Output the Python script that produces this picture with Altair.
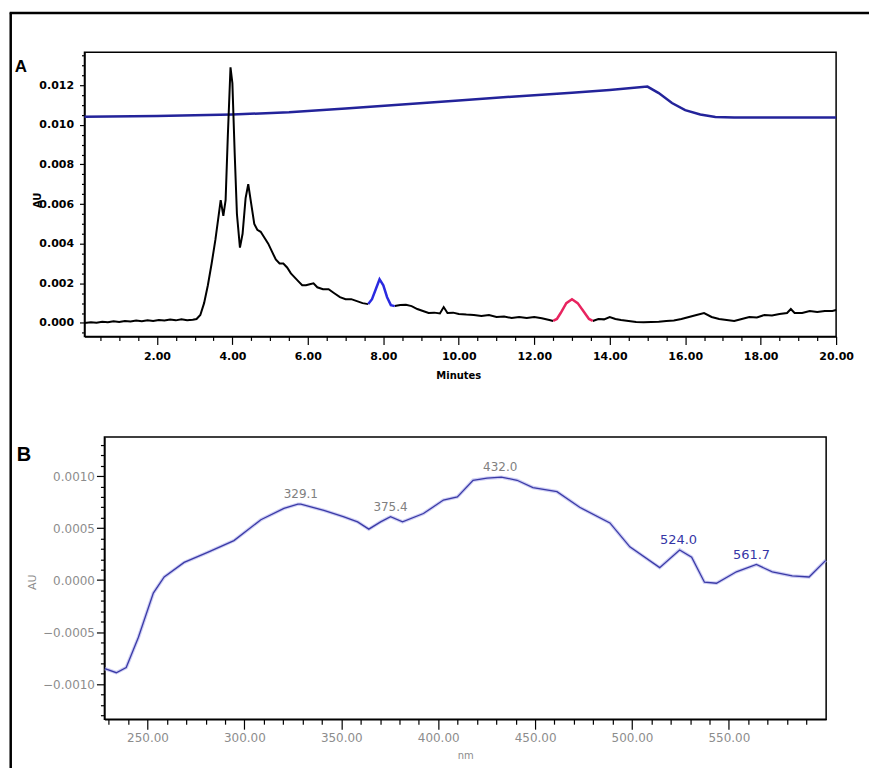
import altair as alt
import pandas as pd

# ---------------- Panel A: chromatogram (AU vs Minutes) ----------------
grad_t = [0.08, 2.0, 4.0, 5.5, 7.0, 8.5, 10.0, 11.5, 13.0, 14.0, 15.0, 15.3, 15.65, 16.0, 16.4, 16.8, 17.3, 20.0]
grad_v = [0.01041, 0.01044, 0.01052, 0.01063, 0.01082, 0.01103, 0.01123, 0.01143, 0.01162, 0.01176,
          0.01193, 0.01160, 0.01110, 0.01074, 0.01052, 0.01040, 0.01037, 0.01037]

trace1_t = [0.08, 0.25, 0.4, 0.55, 0.7, 0.85, 1.0, 1.15, 1.3, 1.45, 1.6, 1.75, 1.9, 2.05, 2.2, 2.35, 2.5,
            2.65, 2.8, 2.95, 3.05, 3.15, 3.25, 3.35, 3.45, 3.55, 3.62, 3.69, 3.76, 3.82, 3.88, 3.95, 4.0,
            4.06, 4.12, 4.2, 4.27, 4.35, 4.42, 4.5, 4.58, 4.66, 4.75, 4.85, 4.95, 5.05, 5.15, 5.25, 5.35,
            5.45, 5.55, 5.65, 5.75, 5.85, 5.95, 6.05, 6.15, 6.25, 6.4, 6.55, 6.7, 6.85, 7.0, 7.15, 7.3,
            7.45, 7.6]
trace1_v = [0.0, 0.00004, 0.00001, 0.00006, 0.00003, 0.00008, 0.00005, 0.0001, 0.00007, 0.00012,
            0.00009, 0.00014, 0.0001, 0.00015, 0.00012, 0.00017, 0.00013, 0.00019, 0.00014, 0.00016,
            0.0002, 0.0004, 0.001, 0.0019, 0.003, 0.0042, 0.0052, 0.0062, 0.0054, 0.0062,
            0.0095, 0.0129, 0.0121, 0.0086, 0.0055, 0.0038, 0.0045, 0.0063, 0.007, 0.006,
            0.005, 0.0047, 0.0046, 0.0043, 0.004, 0.0036, 0.0032, 0.003, 0.003, 0.0028,
            0.0025, 0.0023, 0.0021, 0.0019, 0.0019, 0.00195, 0.002, 0.0018, 0.0017, 0.0017,
            0.0015, 0.0013, 0.0012, 0.0012, 0.0011, 0.001, 0.00095]

peak1_t = [7.6, 7.7, 7.8, 7.9, 8.0, 8.1, 8.2, 8.3]
peak1_v = [0.00095, 0.0012, 0.0017, 0.0022, 0.0019, 0.0013, 0.0009, 0.00085]

trace2_t = [8.3, 8.45, 8.6, 8.75, 8.9, 9.05, 9.2, 9.35, 9.5, 9.6, 9.7, 9.85, 10.0, 10.2, 10.4, 10.6,
            10.8, 11.0, 11.2, 11.4, 11.6, 11.8, 12.0, 12.2, 12.4, 12.5]
trace2_v = [0.00085, 0.0009, 0.00092, 0.00085, 0.0007, 0.0006, 0.0005, 0.00052, 0.00048, 0.0008,
            0.0005, 0.00052, 0.00045, 0.00042, 0.0004, 0.00035, 0.0004, 0.0003, 0.00032, 0.00025,
            0.0003, 0.00025, 0.0003, 0.00024, 0.00015, 0.0001]

peak2_t = [12.5, 12.6, 12.7, 12.85, 13.0, 13.15, 13.3, 13.45, 13.55]
peak2_v = [0.0001, 0.0002, 0.0005, 0.001, 0.0012, 0.001, 0.0006, 0.0002, 0.0001]

trace3_t = [13.55, 13.7, 13.85, 14.0, 14.15, 14.3, 14.5, 14.7, 14.9, 15.1, 15.3, 15.5, 15.7, 15.9,
            16.1, 16.3, 16.5, 16.7, 16.9, 17.1, 17.3, 17.5, 17.7, 17.9, 18.1, 18.3, 18.5, 18.7, 18.8,
            18.9, 19.1, 19.3, 19.5, 19.7, 19.9, 20.0]
trace3_v = [0.0001, 0.0002, 0.00018, 0.0003, 0.0002, 0.00015, 0.0001, 0.00005, 0.00003, 0.00005,
            0.00006, 0.0001, 0.00012, 0.0002, 0.0003, 0.0004, 0.0005, 0.0003, 0.0002, 0.00015,
            0.0001, 0.0002, 0.0003, 0.00028, 0.0004, 0.00038, 0.00045, 0.0005, 0.0007, 0.0005,
            0.0005, 0.0006, 0.00055, 0.0006, 0.0006, 0.00065]

a_x_ticks = [2, 4, 6, 8, 10, 12, 14, 16, 18, 20]
a_y_ticks = [0.0, 0.002, 0.004, 0.006, 0.008, 0.010, 0.012]

# ---------------- Panel B: UV spectrum (AU vs nm) ----------------
spec_nm = [228, 233.9, 239, 245.3, 253, 258.6, 268.9, 281.3, 294.6, 308.5, 320.4, 327.6, 329.1, 341,
           351, 358.4, 364.2, 370.3, 375.4, 381.6, 392.4, 402.7, 409.9, 418, 425.2, 432.6, 440.7,
           448.9, 461.3, 473, 488.6, 498.9, 514.3, 524.6, 530.8, 537.4, 543.6, 553.9, 564.2, 572.4,
           582.7, 591.4, 600]
spec_v = [-0.00085, -0.00089, -0.00084, -0.00055, -0.000125, 0.00003, 0.00017, 0.00027, 0.00038,
          0.00058, 0.00069, 0.00073, 0.00073, 0.00067, 0.00061, 0.00056, 0.00049, 0.00056, 0.00061,
          0.00056, 0.00064, 0.00077, 0.0008, 0.00096, 0.00098, 0.00099, 0.00096, 0.00089, 0.00085,
          0.0007, 0.00055, 0.00032, 0.00012, 0.00029, 0.00022, -0.00002, -0.00003, 0.00008,
          0.00015, 0.00008, 0.00004, 0.00003, 0.00019]

gray_peak_nm = [329.1, 375.4, 432.0]
gray_peak_v = [0.00073, 0.00061, 0.00099]
gray_peak_lbl = ["329.1", "375.4", "432.0"]
blue_peak_nm = [524.0, 561.7]
blue_peak_v = [0.00029, 0.00015]
blue_peak_lbl = ["524.0", "561.7"]

b_x_ticks = [250, 300, 350, 400, 450, 500, 550]
b_y_ticks = [-0.001, -0.0005, 0.0, 0.0005, 0.001]

# ---------------- layout constants ----------------
W_A, H_A = 734, 285
W_B, H_B = 724, 283
A_DOM_X = [0.08, 20]
A_DOM_Y = [-0.00068, 0.01366]
B_DOM_X = [227.76, 600.2]
B_DOM_Y = [-0.001337, 0.001375]

a_x_minor = [round(0.5 * i, 2) for i in range(1, 40) if i % 4 != 0]
a_y_minor = [round(0.0005 * i, 5) for i in range(-1, 28) if i % 4 != 0]
b_x_minor = [v for v in range(230, 601, 10) if v % 50 != 0]
b_y_minor = [round(0.0001 * i, 5) for i in range(-13, 14) if i % 5 != 0]

one = pd.DataFrame({"k": [0]})

# ================= Panel A =================
xA = alt.Scale(domain=A_DOM_X, range=[-20, W_A], nice=False, zero=False)
yA = alt.Scale(domain=A_DOM_Y, nice=False, zero=False)

axAx = alt.Axis(values=a_x_ticks, format=".2f", grid=False, tickSize=8, tickColor="black", tickWidth=1.2,
                domainColor="black", domainWidth=1.5, labelFont="DejaVu Sans", labelFontSize=11,
                labelFontWeight="bold", labelColor="black", labelPadding=6, labelFlush=False,
                labelOverlap=False, title="Minutes", titleFont="DejaVu Sans", titleFontSize=10,
                titleFontWeight="bold", titleColor="black", titleX=355, titleY=39,
                titleBaseline="middle", titleAlign="center")
axAy = alt.Axis(values=a_y_ticks, format=".3f", grid=False, offset=20, tickSize=5, tickColor="black",
                tickWidth=1.2, domainColor="black", domainWidth=1.5, labelFont="DejaVu Sans",
                labelFontSize=11, labelFontWeight="bold", labelColor="black", labelPadding=6,
                labelFlush=False, labelOverlap=False, title="AU", titleFont="DejaVu Sans",
                titleFontSize=10, titleFontWeight="bold", titleColor="black", titleX=-47, titleY=148,
                titleBaseline="middle", titleAlign="center", titleAngle=270)
minAx = alt.Axis(orient="bottom", values=a_x_minor, labels=False, domain=False, grid=False, tickSize=4,
                 tickColor="black", tickWidth=1.2, title=None)
minAy = alt.Axis(orient="left", values=a_y_minor, labels=False, domain=False, grid=False, offset=20,
                 tickSize=3, tickColor="black", tickWidth=1.2, title=None)

gradDF = pd.DataFrame({"t": grad_t, "v": grad_v})
blackDF = pd.concat([
    pd.DataFrame({"t": trace1_t, "v": trace1_v, "part": "a"}),
    pd.DataFrame({"t": trace2_t, "v": trace2_v, "part": "b"}),
    pd.DataFrame({"t": trace3_t, "v": trace3_v, "part": "c"}),
])
p1DF = pd.DataFrame({"t": peak1_t, "v": peak1_v})
p2DF = pd.DataFrame({"t": peak2_t, "v": peak2_v})

frameA = alt.Chart(one).mark_rect(fillOpacity=0, stroke="black", strokeWidth=1.5).encode(
    x=alt.X(datum=A_DOM_X[0], axis=None), x2=alt.X2(datum=A_DOM_X[1]),
    y=alt.Y(datum=A_DOM_Y[0], axis=None), y2=alt.Y2(datum=A_DOM_Y[1]))
gradA = alt.Chart(gradDF).mark_line(color="#23239a", strokeWidth=2.5).encode(
    x=alt.X("t:Q", scale=xA, axis=axAx), y=alt.Y("v:Q", scale=yA, axis=axAy))
blackA = alt.Chart(blackDF).mark_line(color="black", strokeWidth=2).encode(
    x=alt.X("t:Q", axis=None), y=alt.Y("v:Q", axis=None), detail="part:N")
blueA = alt.Chart(p1DF).mark_line(color="#2a2ae0", strokeWidth=2.5).encode(
    x=alt.X("t:Q", axis=None), y=alt.Y("v:Q", axis=None))
redA = alt.Chart(p2DF).mark_line(color="#e8245f", strokeWidth=2.5).encode(
    x=alt.X("t:Q", axis=None), y=alt.Y("v:Q", axis=None))
minorA = alt.Chart(pd.DataFrame({"t": [10.0], "v": [0.005]})).mark_point(opacity=0).encode(
    x=alt.X("t:Q", axis=minAx), y=alt.Y("v:Q", axis=minAy))

# outer figure frame (decoration)
topRule = alt.Chart(one).mark_rule(color="black", strokeWidth=2.5).encode(
    x=alt.value(-95), x2=alt.value(767), y=alt.value(-39.5))
leftRule = alt.Chart(one).mark_rule(color="black", strokeWidth=2.5).encode(
    x=alt.value(-94), y=alt.value(-40), y2=alt.value(718))
labelA = alt.Chart(one).mark_text(text="A", font="Liberation Sans", fontSize=17, fontWeight="bold",
                                  align="left", baseline="alphabetic", color="black").encode(
    x=alt.value(-90), y=alt.value(20))

chartA = alt.layer(frameA, gradA, blackA, blueA, redA, minorA, topRule, leftRule, labelA).resolve_axis(
    x="independent", y="independent").properties(width=W_A, height=H_A)

# ================= Panel B =================
xB = alt.Scale(domain=B_DOM_X, nice=False, zero=False)
yB = alt.Scale(domain=B_DOM_Y, nice=False, zero=False)

axBx = alt.Axis(values=b_x_ticks, format=".2f", grid=False, tickSize=10, tickColor="black", tickWidth=1.2,
                domainColor="black", domainWidth=1.5, labelFont="DejaVu Sans", labelFontSize=12,
                labelColor="#8c8c8c", labelPadding=3, labelFlush=False, labelOverlap=False,
                title="nm", titleFont="DejaVu Sans", titleFontSize=10, titleFontWeight="normal",
                titleColor="#8c8c8c", titleX=362, titleY=36, titleBaseline="middle", titleAlign="center")
axBy = alt.Axis(values=b_y_ticks, format=".4f", grid=False, tickSize=8, tickColor="black", tickWidth=1.2,
                domainColor="black", domainWidth=1.5, labelFont="DejaVu Sans", labelFontSize=12,
                labelColor="#8c8c8c", labelPadding=2, labelFlush=False, labelOverlap=False,
                title="AU", titleFont="DejaVu Sans", titleFontSize=11, titleFontWeight="normal",
                titleColor="#8c8c8c", titleX=-72, titleY=145, titleBaseline="middle",
                titleAlign="center", titleAngle=270)
minBx = alt.Axis(orient="bottom", values=b_x_minor, labels=False, domain=False, grid=False, tickSize=5,
                 tickColor="black", tickWidth=1.2, title=None)
minBy = alt.Axis(orient="left", values=b_y_minor, labels=False, domain=False, grid=False, tickSize=4,
                 tickColor="black", tickWidth=1.2, title=None)

specDF = pd.DataFrame({"nm": spec_nm, "v": spec_v})
grayDF = pd.DataFrame({"nm": gray_peak_nm, "v": gray_peak_v, "lbl": gray_peak_lbl})
blueDF = pd.DataFrame({"nm": blue_peak_nm, "v": blue_peak_v, "lbl": blue_peak_lbl})

frameB = alt.Chart(one).mark_rect(fillOpacity=0, stroke="black", strokeWidth=1.5).encode(
    x=alt.X(datum=B_DOM_X[0], axis=None), x2=alt.X2(datum=B_DOM_X[1]),
    y=alt.Y(datum=B_DOM_Y[0], axis=None), y2=alt.Y2(datum=B_DOM_Y[1]))
haloB = alt.Chart(specDF).mark_line(color="#b9b9f0", strokeWidth=3.5, opacity=0.7).encode(
    x=alt.X("nm:Q", axis=None), y=alt.Y("v:Q", axis=None))
lineB = alt.Chart(specDF).mark_line(color="#3a3aa6", strokeWidth=1.3).encode(
    x=alt.X("nm:Q", scale=xB, axis=axBx), y=alt.Y("v:Q", scale=yB, axis=axBy))
grayLbl = alt.Chart(grayDF).mark_text(dy=-10, font="DejaVu Sans", fontSize=12, color="#808080").encode(
    x=alt.X("nm:Q", axis=None), y=alt.Y("v:Q", axis=None), text="lbl:N")
blueLbl = alt.Chart(blueDF).mark_text(dy=-10, font="DejaVu Sans", fontSize=13, color="#3535a5").encode(
    x=alt.X("nm:Q", axis=None), y=alt.Y("v:Q", axis=None), text="lbl:N")
minorB = alt.Chart(pd.DataFrame({"nm": [400.0], "v": [0.0]})).mark_point(opacity=0).encode(
    x=alt.X("nm:Q", axis=minBx), y=alt.Y("v:Q", axis=minBy))
labelB = alt.Chart(one).mark_text(text="B", font="Liberation Sans", fontSize=20, fontWeight="bold",
                                  align="left", baseline="alphabetic", color="black").encode(
    x=alt.value(-88), y=alt.value(24))

chartB = alt.layer(frameB, haloB, lineB, grayLbl, blueLbl, minorB, labelB).resolve_axis(
    x="independent", y="independent").properties(width=W_B, height=H_B)

chart = alt.vconcat(chartA, chartB, spacing=101, bounds="flush").properties(
    padding={"left": 7.75, "top": 9.25, "right": 0, "bottom": 0}, background="white"
).configure_view(strokeOpacity=0)

chart.save("out.html", embed_options={"renderer": "svg", "actions": False})
